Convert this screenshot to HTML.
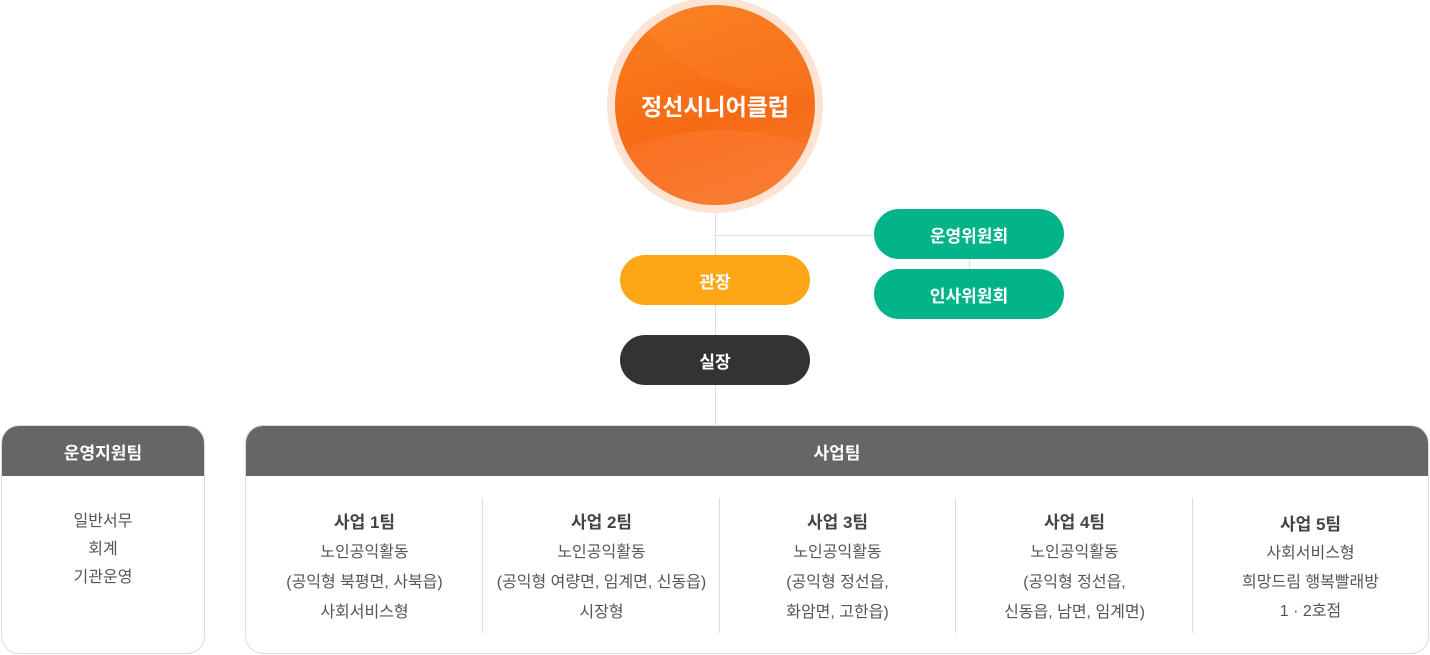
<!DOCTYPE html>
<html><head><meta charset="utf-8"><style>
*{margin:0;padding:0;box-sizing:border-box}
body{width:1430px;height:655px;background:#fff;position:relative;overflow:hidden;font-family:"Liberation Sans","Noto Sans CJK KR",sans-serif}
.a{position:absolute}
.pill{position:absolute;width:190px;height:50px;border-radius:25px;color:#fff;font-weight:bold;font-size:17px;display:flex;align-items:center;justify-content:center}
.ln{position:absolute;background:#ddd}
.box{position:absolute;border:1px solid #ddd;border-radius:18px;overflow:hidden;background:#fff}
.hd{height:50px;background:#666;color:#fff;font-weight:bold;font-size:17px;display:flex;align-items:center;justify-content:center}
.col{position:absolute;top:82px;width:237px;text-align:center;color:#555;font-size:16px;line-height:30px}
.col b{display:block;font-size:17px;color:#444;margin-bottom:0}
.dv{position:absolute;top:72px;width:1px;height:135px;background:#ddd}
</style></head><body>
<div class="ln" style="left:715px;top:205px;width:1px;height:220px"></div>
<div class="ln" style="left:715px;top:235px;width:160px;height:1px"></div>
<div class="ln" style="left:969px;top:255px;width:1px;height:16px"></div>
<div class="a" style="left:607px;top:-3px;width:216px;height:216px;border-radius:50%;background:#fde3d3"></div>
<div class="a" style="left:615px;top:5px;width:200px;height:200px;border-radius:50%;overflow:hidden;background:linear-gradient(160deg,#f98020 0%,#f76a14 55%,#f77a30 100%);color:#fff;font-weight:bold;font-size:23px;display:flex;align-items:center;justify-content:center">
<div class="a" style="left:-60px;top:125px;width:330px;height:200px;border-radius:50%;background:rgba(255,140,80,0.25)"></div>
<div class="a" style="left:20px;top:-120px;width:330px;height:210px;border-radius:50%;background:rgba(255,150,60,0.18)"></div>
<span style="position:relative">정선시니어클럽</span></div>
<div class="pill" style="left:874px;top:209px;background:#03b48a">운영위원회</div>
<div class="pill" style="left:874px;top:269px;background:#03b48a">인사위원회</div>
<div class="pill" style="left:620px;top:255px;background:#fda716">관장</div>
<div class="pill" style="left:620px;top:335px;background:#333">실장</div>
<div class="box" style="left:1px;top:425px;width:204px;height:229px">
<div class="hd">운영지원팀</div>
<div style="text-align:center;color:#555;font-size:16px;line-height:28px;margin-top:32px">일반서무<br>회계<br>기관운영</div>
</div>
<div class="box" style="left:245px;top:425px;width:1184px;height:229px">
<div class="hd">사업팀</div>
<div class="col" style="left:0"><b>사업 1팀</b>노인공익활동<br>(공익형 북평면, 사북읍)<br>사회서비스형</div>
<div class="dv" style="left:236px"></div>
<div class="col" style="left:237px"><b>사업 2팀</b>노인공익활동<br>(공익형 여량면, 임계면, 신동읍)<br>시장형</div>
<div class="dv" style="left:473px"></div>
<div class="col" style="left:473px"><b>사업 3팀</b>노인공익활동<br>(공익형 정선읍,<br>화암면, 고한읍)</div>
<div class="dv" style="left:709px"></div>
<div class="col" style="left:710px"><b>사업 4팀</b>노인공익활동<br>(공익형 정선읍,<br>신동읍, 남면, 임계면)</div>
<div class="dv" style="left:946px"></div>
<div class="col" style="left:946px;top:84px;line-height:29px"><b>사업 5팀</b>사회서비스형<br>희망드림 행복빨래방<br>1 · 2호점</div>
</div>
</body></html>
